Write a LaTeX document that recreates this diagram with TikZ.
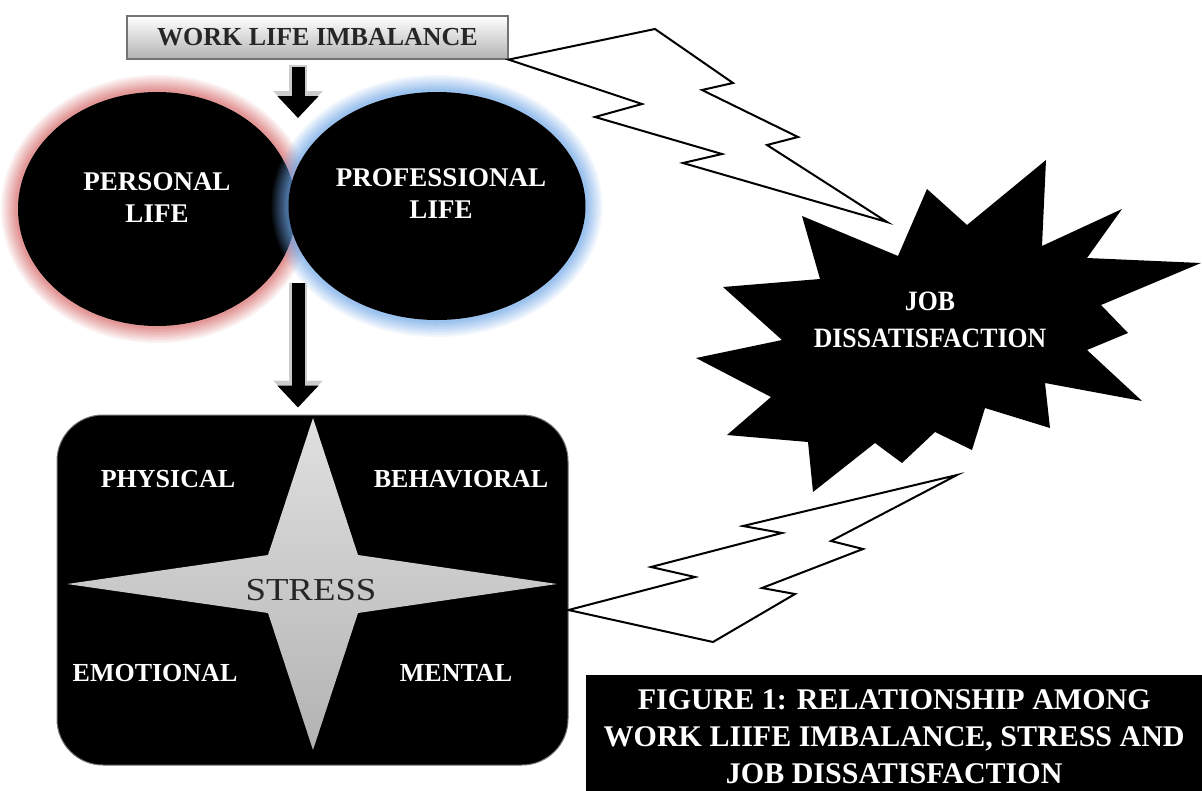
\documentclass[tikz,border=0pt]{standalone}
\usepackage{fontspec}
\usepackage{graphicx}
\setmainfont{Liberation Serif}
\usetikzlibrary{arrows.meta,positioning,shapes.geometric}
\definecolor{glowred}{RGB}{214,104,104}
\definecolor{glowblue}{RGB}{110,165,230}

\begin{document}
\begin{tikzpicture}[x=1pt,y=-1pt,
  glow/.style={preaction={draw=#1,line width=34pt,draw opacity=0.09},
    preaction={draw=#1,line width=30pt,draw opacity=0.10},
    preaction={draw=#1,line width=26pt,draw opacity=0.11},
    preaction={draw=#1,line width=22pt,draw opacity=0.12},
    preaction={draw=#1,line width=18pt,draw opacity=0.13},
    preaction={draw=#1,line width=14pt,draw opacity=0.15},
    preaction={draw=#1,line width=10pt,draw opacity=0.17},
    preaction={draw=#1,line width=6pt,draw opacity=0.20}},
  life/.style={ellipse,fill=black,inner sep=0pt},
  lifetext/.style={text=white,align=center,font=\bfseries\fontsize{27}{32}\selectfont},
  headbox/.style={draw=black!55,line width=1.2pt,top color=white,bottom color=black!30,
    minimum width=381pt,minimum height=43pt,inner sep=0pt,
    font=\bfseries\fontsize{26}{30}\selectfont,text=black!85},
  arrowrim/.style={draw=black!20,line width=18pt,-{Triangle[width=48pt,length=27pt]}},
  arrowbody/.style={draw=black,line width=13pt,-{Triangle[width=40pt,length=22pt]}},
  stressbox/.style={rounded corners=46pt,fill=black,draw=black!55,line width=1pt,
    minimum width=511pt,minimum height=350pt},
  facet/.style={text=white,font=\bfseries\fontsize{26}{30}\selectfont},
  bolt/.style={fill=white,draw=black,line width=2pt,line join=miter},
  capbox/.style={fill=black,text=white,align=center,minimum width=616pt,
    minimum height=124pt,inner sep=0pt,font=\bfseries\fontsize{30}{37}\selectfont}]

\useasboundingbox (0,0) rectangle (1202,790);

\node[headbox] (wli) at (317.5,37.5) {WORK LIFE IMBALANCE};

\node[life,glow=glowred,minimum width=278pt,minimum height=234pt] (per) at (157,209) {};
\node[life,glow=glowblue,minimum width=297pt,minimum height=228pt] (pro) at (437,206) {};
\node[lifetext] (perlbl) at (157,198) {PERSONAL\\LIFE};
\node[lifetext] (prolbl) at (441,194) {PROFESSIONAL\\LIFE};

\node[stressbox] (stress) at (312.5,590) {};
\shade[top color=black!12,bottom color=black!30] (313,418) -- (358,555) -- (557,584)
  -- (358,613) -- (313,750) -- (268,613) -- (67,584) -- (268,555) -- cycle;
\node[font=\fontsize{32}{36}\selectfont,text=black!85] (stresslbl) at (311,590) {\scalebox{1.15}[1]{STRESS}};
\node[facet] (phys) at (168,479) {PHYSICAL};
\node[facet] (behav) at (461,479) {BEHAVIORAL};
\node[facet] (emot) at (155,673) {EMOTIONAL};
\node[facet] (ment) at (456,673) {MENTAL};

\coordinate (topmeet) at (298,118);
\coordinate (lowmeet) at (298,283);
\draw[arrowrim,shorten <=5pt] (wli.south -| topmeet) -- (topmeet);
\draw[arrowbody,shorten <=7pt] (wli.south -| topmeet) -- (topmeet);
\draw[arrowrim,shorten >=7pt] (lowmeet) -- (stress.north -| lowmeet);
\draw[arrowbody,shorten >=7pt] (lowmeet) -- (stress.north -| lowmeet);

\fill (1046,160) -- (1042,246) -- (1122,209) -- (1087,258) -- (1201,263) -- (1101,305)
  -- (1128,333) -- (1087,350) -- (1142,401) -- (1045,383) -- (1050,428) -- (985,408)
  -- (972,450) -- (935,432) -- (902,463) -- (875,443) -- (813,492) -- (808,442)
  -- (727,435) -- (771,397) -- (696,358) -- (782,340) -- (723,287) -- (820,279)
  -- (802,216) -- (898,256) -- (927,189) -- (967,225) -- cycle;
\node[text=white,align=center,font=\bfseries\fontsize{28}{36.5}\selectfont] (jobd) at (930,320)
  {\scalebox{0.92}[1]{JOB}\\\scalebox{0.92}[1]{DISSATISFACTION}};

\coordinate (tipa) at (887,222);
\coordinate (tipb) at (957,475);
\filldraw[bolt] (wli.south east) -- (655,29) -- (733,83) -- (702,90) -- (798,137) -- (767,145)
  -- (tipa) -- (683,163) -- (722,154) -- (595,117) -- (642,104) -- cycle;
\filldraw[bolt] ([yshift=-20pt]stress.east) -- (695,577) -- (651,567) -- (782,533) -- (743,526)
  -- (tipb) -- (831,541) -- (863,549) -- (762,588) -- (795,594) -- (713,642) -- cycle;

\node[capbox,anchor=north west] (cap) at (586,675)
  {FIGURE 1: RELATIONSHIP AMONG\\WORK LIIFE IMBALANCE, STRESS AND\\JOB DISSATISFACTION};
\end{tikzpicture}
\end{document}
